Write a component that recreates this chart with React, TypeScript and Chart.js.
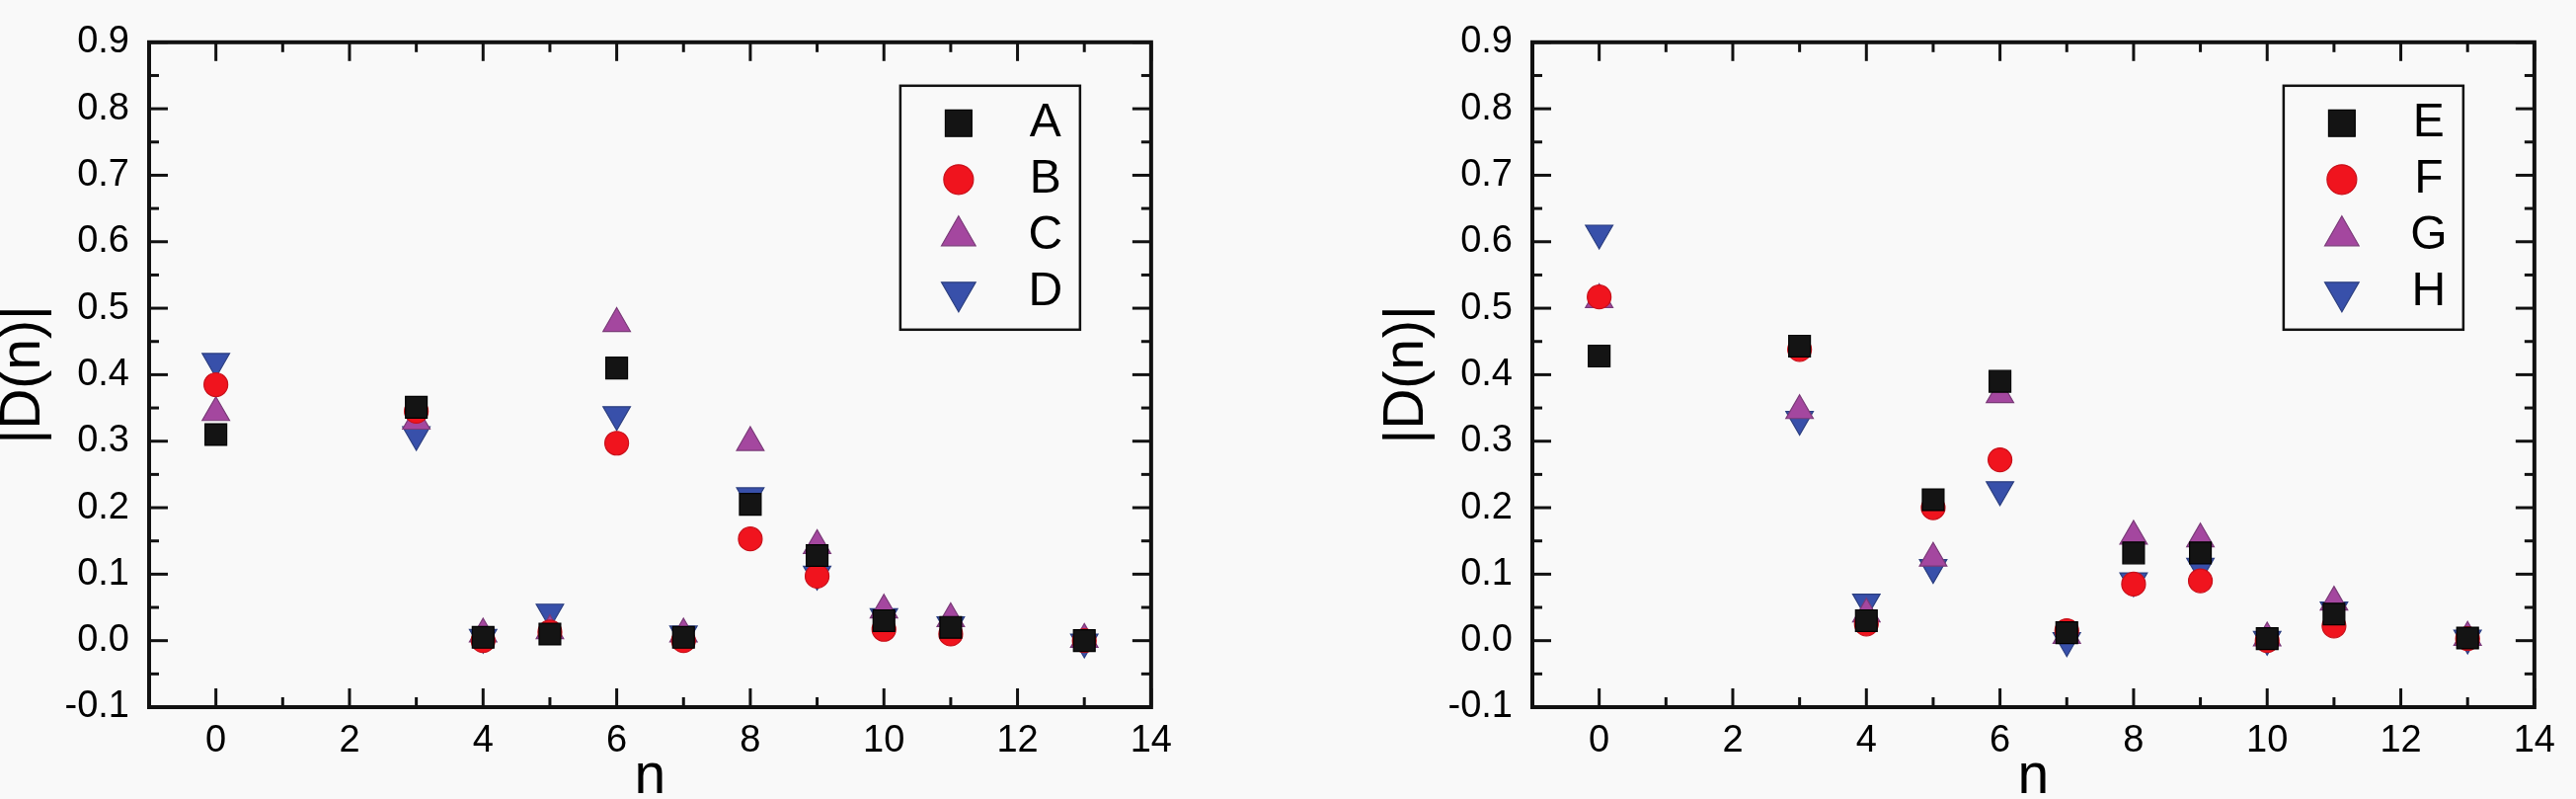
import { useEffect, useRef } from "react"
import { Chart, registerables } from "chart.js"
import { drawPoint } from "chart.js/helpers"

Chart.register(...registerables)

// n positions shared by both panels
const nValues = [0, 3, 4, 5, 6, 7, 8, 9, 10, 11, 13]

// left panel
const seriesA = [0.31, 0.351, 0.005, 0.01, 0.41, 0.005, 0.205, 0.128, 0.03, 0.02, 0.0]
const seriesB = [0.385, 0.345, 0.0, 0.013, 0.297, 0.0, 0.153, 0.097, 0.017, 0.01, 0.0]
const seriesC = [0.343, 0.33, 0.01, 0.015, 0.477, 0.01, 0.298, 0.143, 0.046, 0.033, 0.002]
const seriesD = [0.42, 0.31, 0.005, 0.043, 0.34, 0.01, 0.218, 0.1, 0.036, 0.024, -0.002]

// right panel
const seriesE = [0.428, 0.443, 0.03, 0.212, 0.39, 0.012, 0.132, 0.132, 0.003, 0.04, 0.004]
const seriesF = [0.517, 0.438, 0.025, 0.2, 0.272, 0.015, 0.085, 0.09, 0.0, 0.022, 0.003]
const seriesG = [0.513, 0.346, 0.04, 0.124, 0.37, 0.008, 0.157, 0.153, 0.004, 0.058, 0.005]
const seriesH = [0.613, 0.333, 0.058, 0.11, 0.227, 0.0, 0.09, 0.112, 0.002, 0.046, 0.004]

const leftLabels = ["A", "B", "C", "D"]
const rightLabels = ["E", "F", "G", "H"]

// axis ticks
const xMajorTicks = [0, 2, 4, 6, 8, 10, 12, 14]
const xMinorTicks = [1, 3, 5, 7, 9, 11, 13]
const yMajorTicks = [-0.1, 0, 0.1, 0.2, 0.3, 0.4, 0.5, 0.6, 0.7, 0.8, 0.9]
const yMinorTicks = [-0.05, 0.05, 0.15, 0.25, 0.35, 0.45, 0.55, 0.65, 0.75, 0.85]

const FONT = "'Liberation Sans', Arial, sans-serif"
const BG = "#f9f9f9"

const markers = [
  { style: "rect", rotation: 0, fill: "#141414", border: "#000000", radius: 15.5, legendRadius: 19 },
  { style: "circle", rotation: 0, fill: "#f0141e", border: "#c8101a", radius: 12, legendRadius: 15 },
  { style: "triangle", rotation: 0, fill: "#a4479f", border: "#7a3a78", radius: 16, legendRadius: 20 },
  { style: "triangle", rotation: 180, fill: "#3850aa", border: "#2c3f80", radius: 16, legendRadius: 20 },
]

const axisFrame = {
  id: "axisFrame",
  afterDatasetsDraw(chart: any) {
    const { ctx, chartArea } = chart
    const { left, right, top, bottom } = chartArea
    const xs = chart.scales.x
    const ys = chart.scales.y
    const line = (x1: number, y1: number, x2: number, y2: number) => {
      ctx.beginPath()
      ctx.moveTo(x1, y1)
      ctx.lineTo(x2, y2)
      ctx.stroke()
    }
    ctx.save()
    ctx.strokeStyle = "#111"
    ctx.lineWidth = 3
    xMajorTicks.forEach((v) => {
      const px = xs.getPixelForValue(v)
      line(px, bottom, px, bottom - 19)
      line(px, top, px, top + 19)
    })
    xMinorTicks.forEach((v) => {
      const px = xs.getPixelForValue(v)
      line(px, bottom, px, bottom - 10)
      line(px, top, px, top + 10)
    })
    yMajorTicks.forEach((v) => {
      const py = ys.getPixelForValue(v)
      line(left, py, left + 19, py)
      line(right, py, right - 19, py)
    })
    yMinorTicks.forEach((v) => {
      const py = ys.getPixelForValue(v)
      line(left, py, left + 10, py)
      line(right, py, right - 10, py)
    })
    ctx.lineWidth = 4
    ctx.strokeRect(left, top, right - left, bottom - top)
    ctx.restore()
  },
}

const boxLegend = {
  id: "boxLegend",
  afterDraw(chart: any) {
    const { ctx, chartArea } = chart
    const boxW = 182
    const boxH = 247
    const bx = chartArea.right - 72 - boxW
    const by = chartArea.top + 44
    ctx.save()
    ctx.lineWidth = 2.5
    ctx.strokeStyle = "#111"
    ctx.strokeRect(bx, by, boxW, boxH)
    chart.data.datasets.forEach((ds: any, i: number) => {
      const m = markers[i]
      const cy = by + 38 + i * 57
      ctx.fillStyle = m.fill
      ctx.strokeStyle = m.border
      ctx.lineWidth = 1.2
      drawPoint(ctx, { pointStyle: m.style as any, rotation: m.rotation, radius: m.legendRadius, borderWidth: 1.2 }, bx + 59, cy)
      ctx.fillStyle = "#000"
      ctx.font = `48px ${FONT}`
      ctx.textAlign = "center"
      ctx.textBaseline = "middle"
      ctx.fillText(ds.label, bx + 147, cy)
    })
    ctx.restore()
  },
}

interface PanelProps {
  left: number
  labels: string[]
  series: number[][]
}

function Panel({ left, labels, series }: PanelProps) {
  const chartRef = useRef<HTMLCanvasElement>(null)
  const chartInstance = useRef<Chart | null>(null)

  useEffect(() => {
    if (!chartRef.current) return
    if (chartInstance.current) chartInstance.current.destroy()
    const ctx = chartRef.current.getContext("2d")
    if (!ctx) return

    chartInstance.current = new Chart(ctx, {
      type: "scatter",
      data: {
        datasets: series.map((values, i) => ({
          label: labels[i],
          data: nValues.map((n, j) => ({ x: n, y: values[j] })),
          pointStyle: markers[i].style as any,
          pointRotation: markers[i].rotation,
          pointRadius: markers[i].radius,
          pointBackgroundColor: markers[i].fill,
          pointBorderColor: markers[i].border,
          pointBorderWidth: 1.2,
          showLine: false,
        })),
      },
      options: {
        animation: false,
        responsive: false,
        devicePixelRatio: 1,
        layout: { padding: { top: 15, right: 12, left: 0, bottom: 0 } },
        plugins: {
          legend: { display: false },
          tooltip: { enabled: false },
        },
        scales: {
          x: {
            type: "linear",
            min: -1,
            max: 14,
            grid: { display: false, drawTicks: false, tickLength: 0 },
            border: { display: false },
            afterBuildTicks: (scale: any) => {
              scale.ticks = xMajorTicks.map((v) => ({ value: v }))
            },
            afterFit: (scale: any) => {
              scale.height = 114
            },
            ticks: {
              color: "#000",
              padding: 12,
              font: { family: FONT, size: 38 },
              callback: (v: any) => String(v),
            },
            title: {
              display: true,
              text: "n",
              color: "#000",
              font: { family: FONT, size: 57, lineHeight: 1 },
              padding: { top: 0, bottom: 14 },
            },
          },
          y: {
            type: "linear",
            min: -0.1,
            max: 0.9,
            grid: { display: false, drawTicks: false, tickLength: 0 },
            border: { display: false },
            afterBuildTicks: (scale: any) => {
              scale.ticks = yMajorTicks.map((v) => ({ value: v }))
            },
            afterFit: (scale: any) => {
              scale.width = 152
            },
            ticks: {
              color: "#000",
              padding: 20,
              font: { family: FONT, size: 38 },
              callback: (v: any) => Number(v).toFixed(1),
            },
            title: {
              display: true,
              text: "|D(n)|",
              color: "#000",
              font: { family: FONT, size: 57, lineHeight: 1 },
              padding: { top: -3, bottom: 0 },
            },
          },
        },
      },
      plugins: [axisFrame, boxLegend],
    })

    return () => {
      if (chartInstance.current) {
        chartInstance.current.destroy()
        chartInstance.current = null
      }
    }
  }, [labels, series])

  return (
    <div style={{ position: "absolute", left, top: 0, width: 1200, height: 830 }}>
      <canvas ref={chartRef} width={1200} height={830} style={{ width: 1200, height: 830 }}></canvas>
    </div>
  )
}

const leftSeries = [seriesA, seriesB, seriesC, seriesD]
const rightSeries = [seriesE, seriesF, seriesG, seriesH]

export default function App() {
  return (
    <div
      style={{
        position: "fixed",
        left: 0,
        top: 0,
        width: 2609,
        height: 809,
        overflow: "hidden",
        background: BG,
      }}
    >
      <Panel left={-1} labels={leftLabels} series={leftSeries} />
      <Panel left={1400} labels={rightLabels} series={rightSeries} />
    </div>
  )
}
